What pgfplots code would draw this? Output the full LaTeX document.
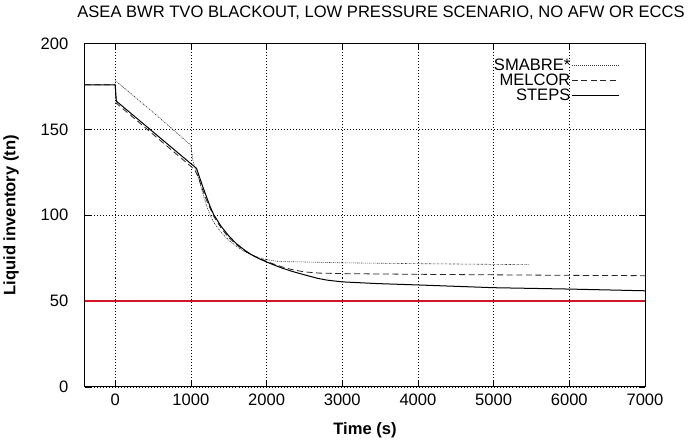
\documentclass[border=0pt]{standalone}
\usepackage{pgfplots}
\pgfplotsset{compat=1.18}
\usepackage{fontspec}
\setmainfont{Liberation Sans}
\definecolor{limitred}{RGB}{210,20,45}
\newcommand{\chartfont}{\fontsize{16.5}{18}\selectfont}
\begin{document}
\begin{tikzpicture}
	\begin{axis}[
		scale only axis,
		width=558pt,
		height=342pt,
		xmin=-400, xmax=7000,
		ymin=0, ymax=200,
		xtick={0,1000,...,7000},
		ytick={0,50,...,200},
		/pgf/number format/assume math mode=true,
		/pgf/number format/set thousands separator={},
		tick label style={font=\chartfont},
		xticklabel style={yshift=-3pt},
		yticklabel style={xshift=-13pt},
		grid=major,
		major grid style={black, line width=0.6pt, dash pattern=on 1pt off 2pt},
		tick style={black, line width=0.5pt},
		major tick length=6pt,
		axis line style={line width=0.9pt},
		xlabel={\textbf{Time (s)}},
		ylabel={\textbf{Liquid inventory (tn)}},
		label style={font=\chartfont},
		xlabel style={yshift=-10pt},
		ylabel style={yshift=15pt},
		title={ASEA BWR TVO BLACKOUT, LOW PRESSURE SCENARIO, NO AFW OR ECCS},
		title style={font=\chartfont, xshift=16pt, yshift=14pt},
		legend style={draw=none, fill=none, at={(0.96,0.965)}, anchor=north east,
			font=\chartfont, row sep=0.5pt, nodes={inner sep=0.8pt}},
		legend cell align=right,
		legend plot pos=right,
		legend image code/.code={\draw[#1] (3pt,0pt) -- (50pt,0pt);},
		clip=true,
		]
		% SMABRE*
		\addplot[black!80, line width=0.6pt, dash pattern=on 1.5pt off 1pt on 0.5pt off 1pt] coordinates {
			(0,178.5)(200,171.2)(500,160)(800,148.5)(1000,140.8)(1030,131)
			(1100,122)(1150,114)(1200,106.5)(1250,100.5)(1300,96)(1400,90)
			(1500,85.5)(1600,82)(1700,79)(1800,77)(1900,75.3)(2000,74.2)
			(2100,73.4)(2200,73)(2500,72.8)(3000,72.3)(4000,71.8)(5000,71.4)(5470,71.2)};
		\addlegendentry{SMABRE*}
		% MELCOR
		\addplot[black!85, line width=0.8pt, dash pattern=on 6pt off 3.5pt] coordinates {
			(-400,176)(0,176)(10,165.5)(1000,128.5)(1050,126.5)(1100,122)(1150,115.5)
			(1200,109.5)(1300,99.5)(1400,92.5)(1500,87)(1600,83)(1700,79.5)
			(1800,77)(1900,75)(2000,73.2)(2100,71.5)(2200,70)(2330,68.4)
			(2500,67)(2700,66.3)(3000,66)(4000,65.6)(5000,65.3)(6000,65)(7000,64.8)};
		\addlegendentry{MELCOR}
		% STEPS
		\addplot[black, line width=1pt] coordinates {
			(-400,176)(0,176)(15,166.5)(1075,127.3)(1100,124)(1150,117.5)
			(1200,111.5)(1250,105.5)(1300,100.5)(1400,93.5)(1500,88)(1600,83.5)
			(1700,80)(1800,77)(1900,74.7)(2000,72.8)(2100,71)(2200,69.3)
			(2330,67.4)(2500,65.3)(2670,63.3)(2800,62.2)(3000,61.2)(3460,60.2)
			(4000,59.4)(5000,57.8)(6000,57)(7000,56)};
		\addlegendentry{STEPS}
		% limit line
		\addplot[limitred, line width=1.6pt, forget plot] coordinates {(-400,50)(7000,50)};
	\end{axis}
	\path (current bounding box.north west) ++(0pt,3pt);
\end{tikzpicture}
\end{document}
